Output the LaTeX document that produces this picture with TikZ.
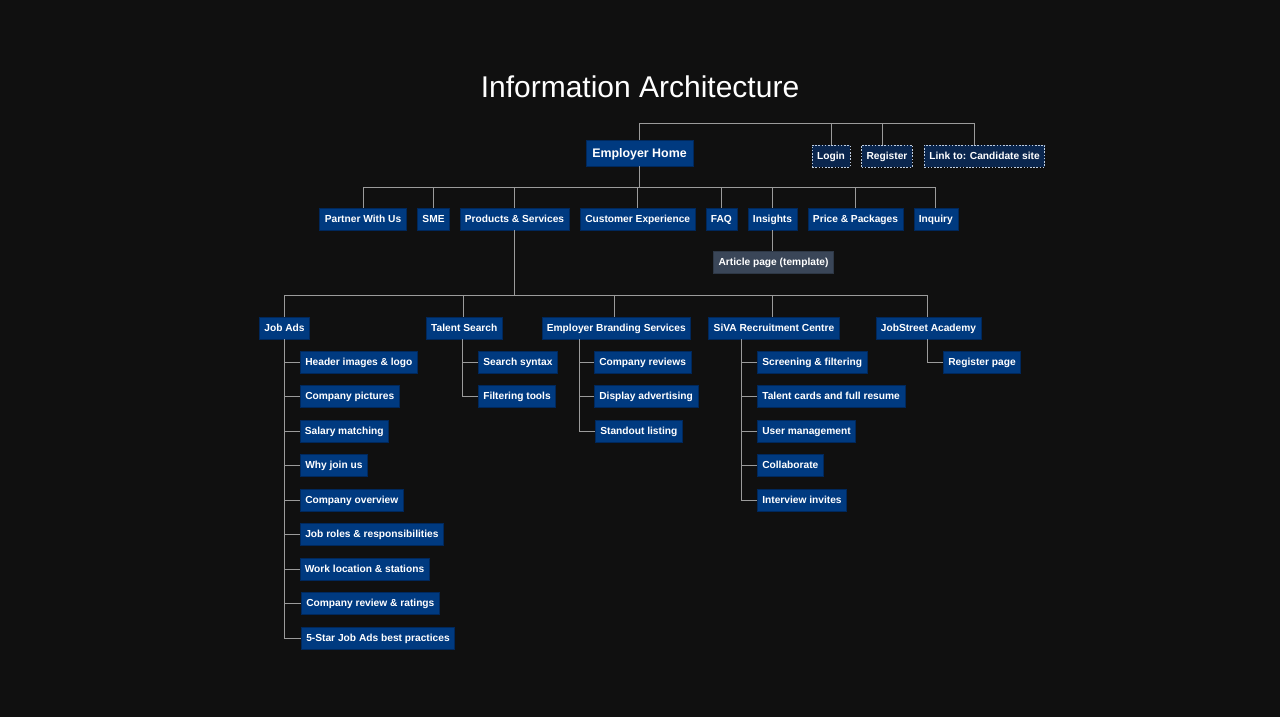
\documentclass[tikz,border=0pt]{standalone}
\usepackage{fontspec}
\setmainfont{Liberation Sans}
\definecolor{bgc}{RGB}{16,16,16}
\definecolor{boxblue}{RGB}{0,58,128}
\definecolor{boxedge}{RGB}{0,40,92}
\definecolor{extfill}{RGB}{10,38,78}
\definecolor{extedge}{RGB}{190,205,225}
\definecolor{tplfill}{RGB}{58,70,88}
\definecolor{wire}{RGB}{155,155,155}
\begin{document}
\begin{tikzpicture}[x=1pt,y=-1pt,
  box/.style={font=\bfseries\fontsize{10.2}{12}\selectfont, text=white,
    inner xsep=5pt, inner ysep=0pt, minimum height=22pt,
    text height=7.3pt, text depth=0.5pt},
  page/.style={box, fill=boxblue, draw=boxedge, line width=0.6pt},
  home/.style={page, font=\bfseries\fontsize{12.4}{14}\selectfont,
    minimum height=26pt, inner xsep=6.5pt, text height=8.9pt, text depth=0.6pt},
  extlink/.style={box, fill=extfill, draw=extedge, line width=0.6pt,
    dash pattern=on 1.6pt off 1.6pt},
  template/.style={box, fill=tplfill, draw=tplfill!80!black, line width=0.6pt},
  sub/.style={page, anchor=west},
  wire/.style={draw=wire, line width=0.9pt},
]
% canvas
\fill[bgc] (0,0) rectangle (1280,717);

% heading
\node[text=white, font=\fontsize{30}{34}\selectfont] (title) at (640,87) {Information Architecture};

% root and utility links
\node[home] (home) at (639.5,153) {Employer Home};
\node[extlink] (login) at (831,156) {Login};
\node[extlink] (reg) at (887,156) {Register};
\node[extlink] (cand) at (984.5,156) {Link to: Candidate site};

\coordinate (tb) at (638,123);
\draw[wire] (home.north) |- ([xshift=-10.5pt]cand.north |- tb) -- ([xshift=-10.5pt]cand.north);
\draw[wire] (login.north) -- (login.north |- tb);
\draw[wire] ([xshift=-5pt]reg.north) -- ([xshift=-5pt]reg.north |- tb);

% first level
\node[page] (partner) at (363,219) {Partner With Us};
\node[page] (sme) at (433.5,219) {SME};
\node[page] (prod) at (514.5,219) {Products \& Services};
\node[page] (cx) at (637.7,219) {Customer Experience};
\node[page] (faq) at (721.4,219) {FAQ};
\node[page] (ins) at (772.5,219) {Insights};
\node[page] (price) at (855.5,219) {Price \& Packages};
\node[page] (inq) at (935.8,219) {Inquiry};
\node[template] (article) at (773.5,262.5) {Article page (template)};

\coordinate (b1) at (0,187);
\draw[wire] (home.south) -- (home.south |- b1);
\draw[wire] (partner.north) -- (partner.north |- b1) -- (inq.north |- b1) -- (inq.north);
\foreach \n in {sme,prod,cx,faq,ins,price}
  \draw[wire] (\n.north) -- (\n.north |- b1);
\draw[wire] (ins.south) -- (ins.south |- article.north);

% second level
\node[page] (jobads) at (284.5,328) {Job Ads};
\node[page] (talent) at (464.3,328) {Talent Search};
\node[page] (ebs) at (616.3,328) {Employer Branding Services};
\node[page] (siva) at (774,328) {SiVA Recruitment Centre};
\node[page] (academy) at (928.5,328) {JobStreet Academy};

\coordinate (b2) at (0,295.5);
\draw[wire] (prod.south) -- (prod.south |- b2);
\draw[wire] (jobads.north) -- (jobads.north |- b2) -- ([xshift=-1.5pt]academy.north |- b2) -- ([xshift=-1.5pt]academy.north);
\draw[wire] ([xshift=-1pt]talent.north) -- ([xshift=-1pt]talent.north |- b2);
\draw[wire] ([xshift=-2pt]ebs.north) -- ([xshift=-2pt]ebs.north |- b2);
\draw[wire] ([xshift=-2pt]siva.north) -- ([xshift=-2pt]siva.north |- b2);

% Job Ads pages
\node[sub] (ja1) at (300,362) {Header images \& logo};
\node[sub] (ja2) at (300,396.5) {Company pictures};
\node[sub] (ja3) at (299.5,431) {Salary matching};
\node[sub] (ja4) at (300,465.5) {Why join us};
\node[sub] (ja5) at (300,500) {Company overview};
\node[sub] (ja6) at (300,534.5) {Job roles \& responsibilities};
\node[sub] (ja7) at (299.5,569) {Work location \& stations};
\node[sub] (ja8) at (301,603.5) {Company review \& ratings};
\node[sub] (ja9) at (301,638) {5-Star Job Ads best practices};

\coordinate (jav) at (jobads.south);
\draw[wire] (jav) |- (ja9.west);
\foreach \n in {ja1,ja2,ja3,ja4,ja5,ja6,ja7,ja8}
  \draw[wire] (jav |- \n.west) -- (\n.west);

% Talent Search pages
\node[sub] (ts1) at (478,362) {Search syntax};
\node[sub] (ts2) at (478,396.5) {Filtering tools};
\coordinate (tsv) at ([xshift=-2pt]talent.south);
\draw[wire] (tsv) |- (ts2.west);
\draw[wire] (tsv |- ts1.west) -- (ts1.west);

% Employer Branding pages
\node[sub] (eb1) at (594,362) {Company reviews};
\node[sub] (eb2) at (594,396.5) {Display advertising};
\node[sub] (eb3) at (595,431) {Standout listing};
\coordinate (ebv) at ([xshift=38pt]ebs.south west);
\draw[wire] (ebv) |- (eb3.west);
\foreach \n in {eb1,eb2}
  \draw[wire] (ebv |- \n.west) -- (\n.west);

% SiVA pages
\node[sub] (sv1) at (757,362) {Screening \& filtering};
\node[sub] (sv2) at (757,396.5) {Talent cards and full resume};
\node[sub] (sv3) at (757,431) {User management};
\node[sub] (sv4) at (757,465.5) {Collaborate};
\node[sub] (sv5) at (757,500) {Interview invites};
\coordinate (svv) at ([xshift=33pt]siva.south west);
\draw[wire] (svv) |- (sv5.west);
\foreach \n in {sv1,sv2,sv3,sv4}
  \draw[wire] (svv |- \n.west) -- (\n.west);

% Academy page
\node[sub] (ac1) at (943,362) {Register page};
\draw[wire] ([xshift=-1.5pt]academy.south) |- (ac1.west);
\end{tikzpicture}
\end{document}
